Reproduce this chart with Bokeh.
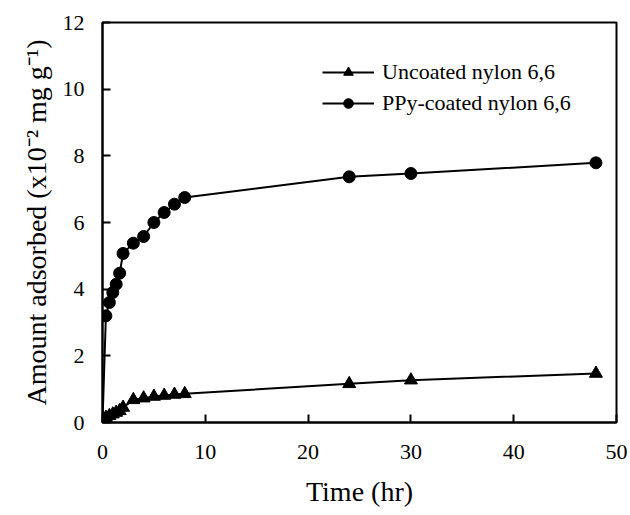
from bokeh.plotting import figure
from bokeh.models import Range1d, FixedTicker, Legend, LegendItem
from bokeh.embed import file_html
from bokeh.resources import INLINE

# Data
time_hr = [0, 0.33, 0.67, 1, 1.33, 1.67, 2, 3, 4, 5, 6, 7, 8, 24, 30, 48]
uncoated = [0, 0.15, 0.2, 0.25, 0.3, 0.35, 0.45, 0.68, 0.73, 0.78, 0.81, 0.84, 0.86, 1.16, 1.27, 1.47]
ppy_coated = [0, 3.2, 3.6, 3.9, 4.15, 4.48, 5.07, 5.38, 5.58, 6.0, 6.3, 6.55, 6.75, 7.37, 7.47, 7.79]

x_ticks = [0, 10, 20, 30, 40, 50]
y_ticks = [0, 2, 4, 6, 8, 10, 12]

series_names = ["Uncoated nylon 6,6", "PPy-coated nylon 6,6"]

FONT = "Liberation Serif"

p = figure(width=630, height=515, output_backend="svg", toolbar_location=None,
           x_range=Range1d(0, 50), y_range=Range1d(0, 12),
           min_border_left=102, min_border_right=14, min_border_top=22, min_border_bottom=93)

p.background_fill_color = "white"
p.border_fill_color = "white"
p.outline_line_color = "black"
p.outline_line_width = 2
p.xgrid.visible = False
p.ygrid.visible = False

for ax in (p.xaxis[0], p.yaxis[0]):
    ax.axis_line_color = "black"
    ax.axis_line_width = 2
    ax.major_tick_in = 8
    ax.major_tick_out = 0
    ax.major_tick_line_width = 2
    ax.major_tick_line_color = "black"
    ax.minor_tick_line_color = None
    ax.major_label_text_font = FONT
    ax.major_label_text_font_size = "22px"
    ax.major_label_text_color = "black"
    ax.axis_label_text_font = FONT
    ax.axis_label_text_font_size = "28px"
    ax.axis_label_text_font_style = "normal"
    ax.axis_label_text_color = "black"

p.xaxis[0].ticker = FixedTicker(ticks=x_ticks)
p.yaxis[0].ticker = FixedTicker(ticks=y_ticks)
p.xaxis[0].major_label_standoff = 22
p.yaxis[0].major_label_standoff = 18
p.xaxis[0].axis_label_standoff = 14
p.yaxis[0].axis_label_standoff = 8
p.xaxis[0].axis_label = "Time (hr)"
p.yaxis[0].axis_label = "Amount adsorbed (x10\u207b\u00b2 mg g\u207b\u00b9)"

l1 = p.line(time_hr, uncoated, line_color="black", line_width=2)
m1 = p.scatter(time_hr, uncoated, marker="triangle", size=13,
               fill_color="black", line_color="black")
l2 = p.line(time_hr, ppy_coated, line_color="black", line_width=2)
m2 = p.scatter(time_hr, ppy_coated, marker="circle", size=12,
               fill_color="black", line_color="black")

legend = Legend(items=[LegendItem(label=series_names[0], renderers=[l1, m1]),
                       LegendItem(label=series_names[1], renderers=[l2, m2])],
                location=(220, 306))
legend.glyph_width = 52
legend.glyph_height = 24
legend.label_text_font = FONT
legend.label_text_font_size = "22px"
legend.label_text_color = "black"
legend.label_standoff = 8
legend.spacing = 5
legend.padding = 0
legend.margin = 0
legend.border_line_color = None
legend.background_fill_alpha = 0
p.add_layout(legend, "center")

open("out.html", "w").write(file_html(p, INLINE))
